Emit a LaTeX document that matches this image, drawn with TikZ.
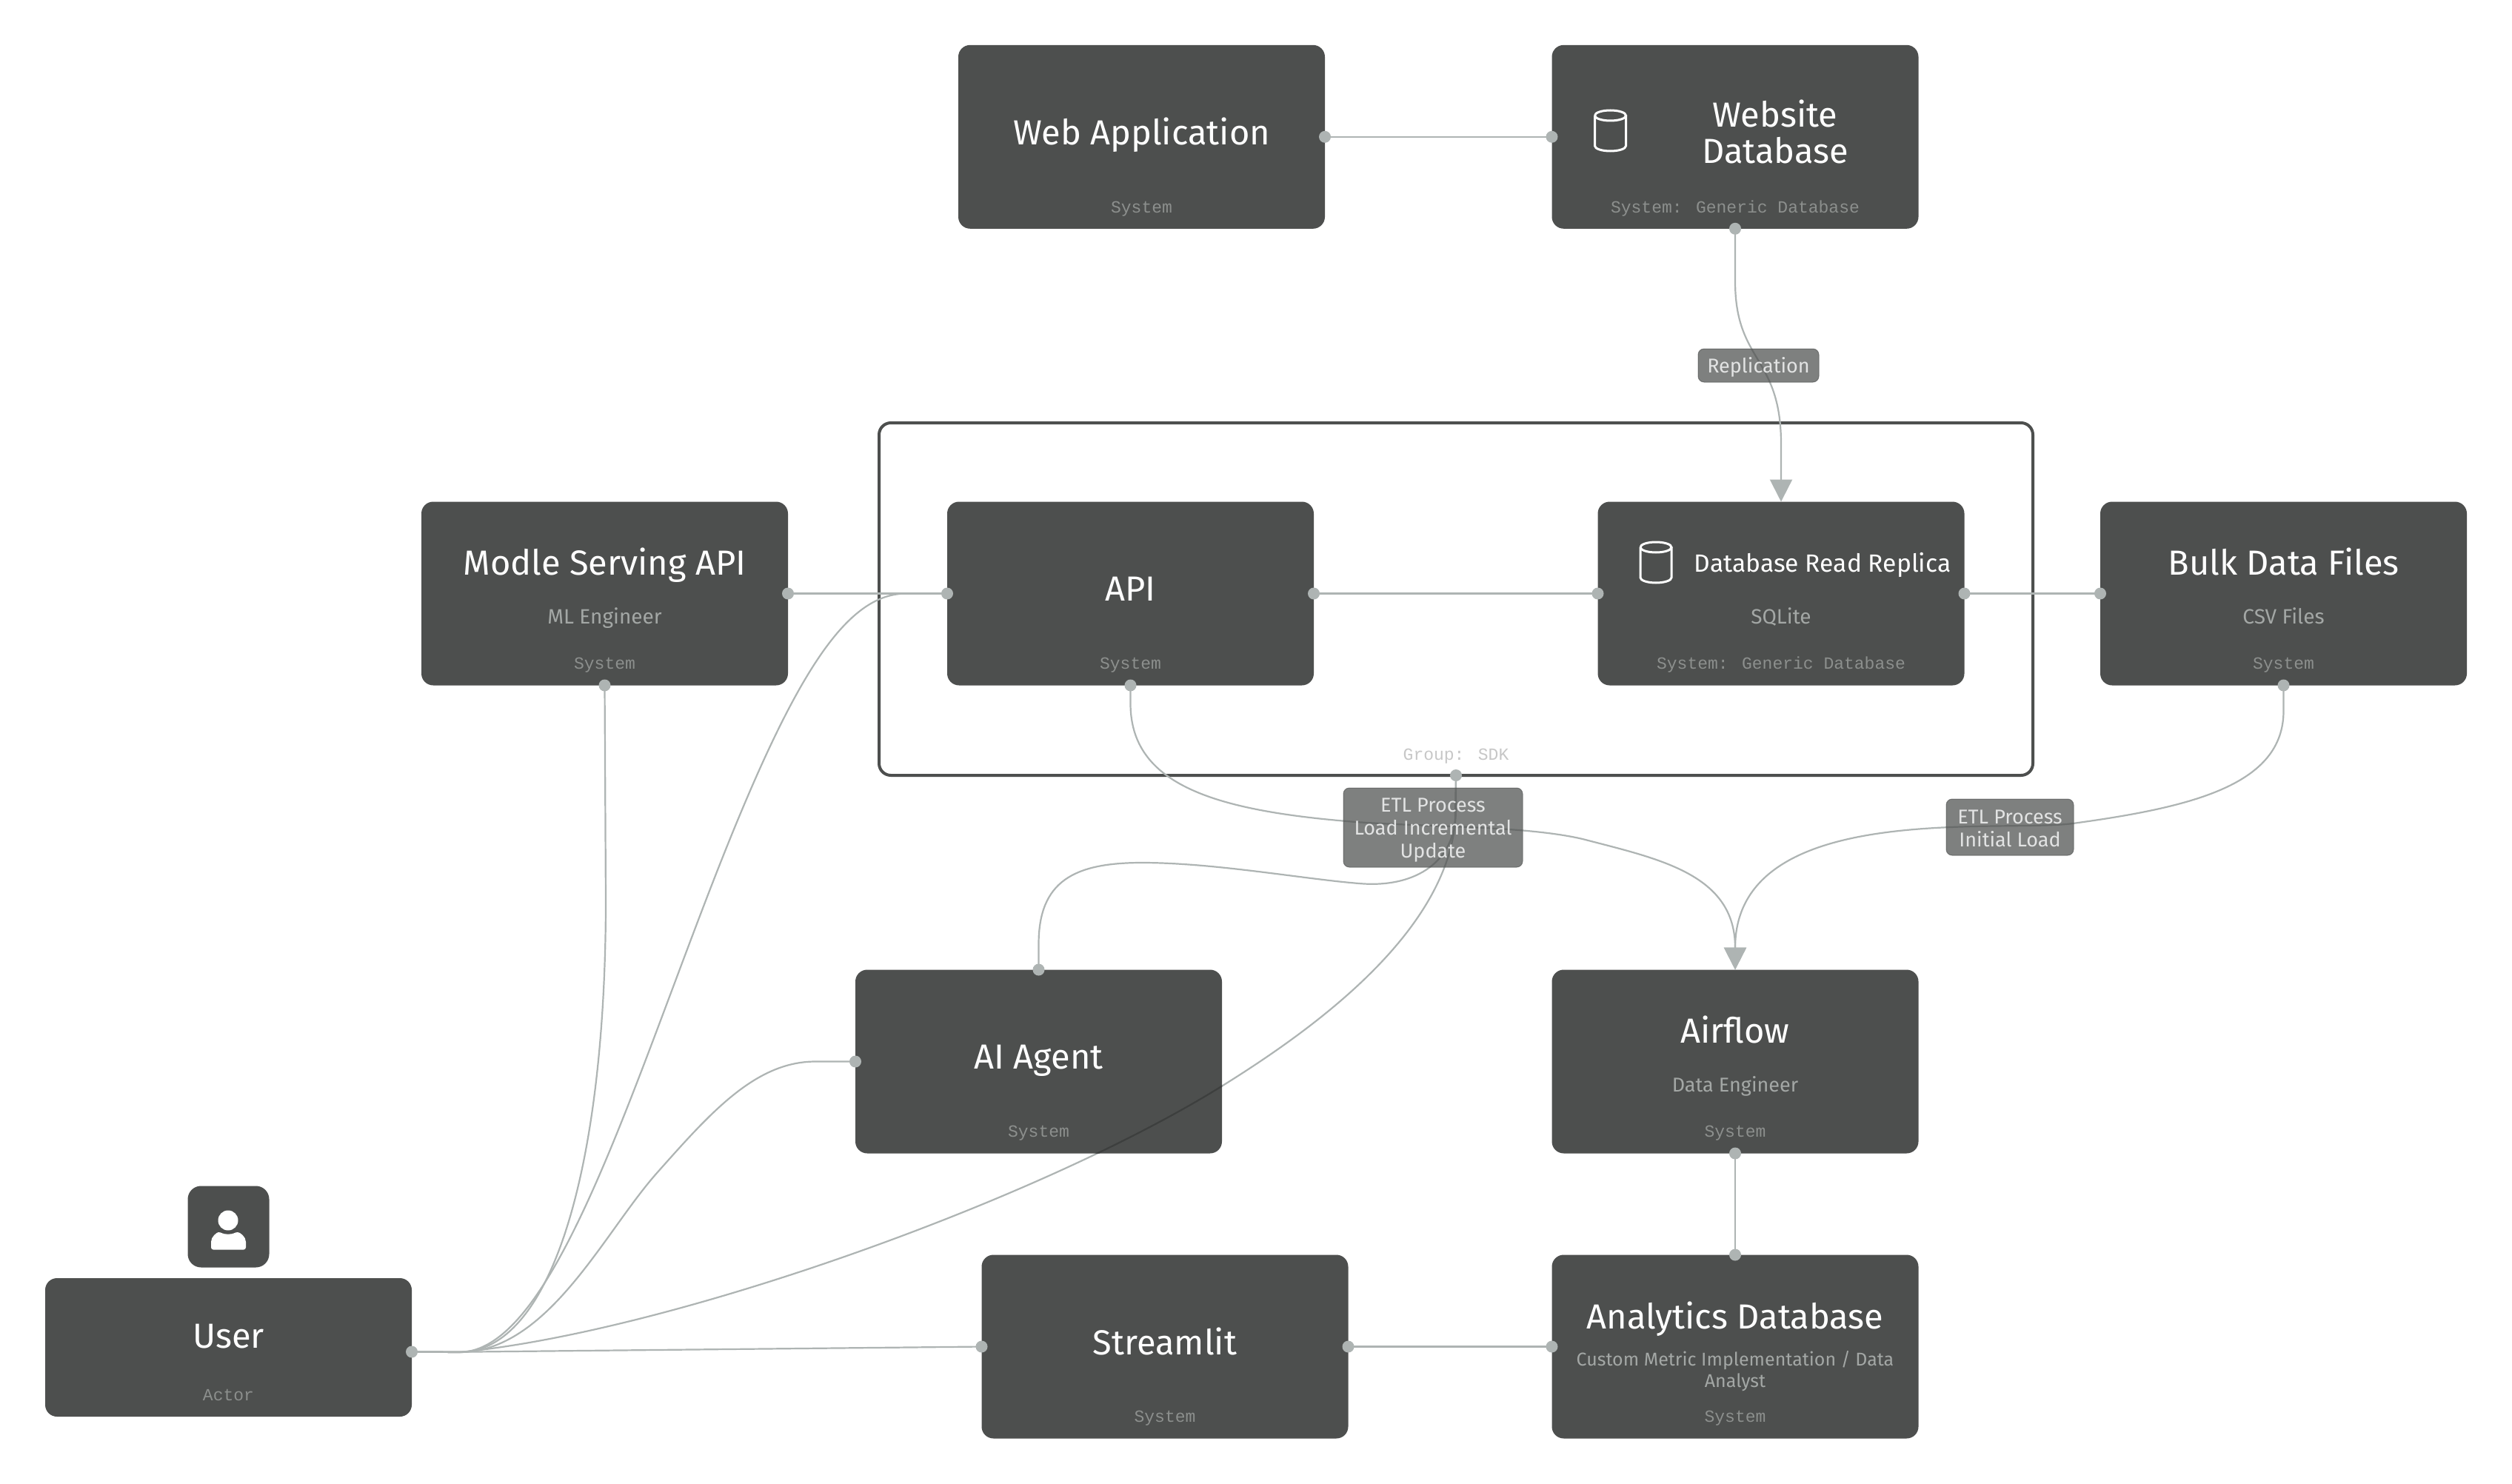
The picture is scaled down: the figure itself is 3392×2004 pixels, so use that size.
\documentclass[tikz,border=0pt]{standalone}
\usepackage{fontspec}
\setmainfont{Fira Sans}
\newfontfamily\monof{Liberation Mono}
\usetikzlibrary{arrows.meta}
\pgfdeclarelayer{bglayer}\pgfdeclarelayer{edgelayer}
\pgfsetlayers{bglayer,edgelayer,main}
\definecolor{boxc}{HTML}{4D4F4E}
\definecolor{linec}{HTML}{AEB4B3}
\definecolor{subc}{HTML}{A3A7A5}
\definecolor{monc}{HTML}{8C8F8D}
\definecolor{darkl}{HTML}{3D3F3E}
\tikzset{
 boxn/.style={rectangle,rounded corners=16pt,fill=boxc,inner sep=0pt,outer sep=0pt,minimum width=495pt,minimum height=248pt},
 ttl/.style={anchor=base,text=white,inner sep=0pt,font=\fontsize{47}{50}\selectfont},
 subt/.style={anchor=base,text=subc,inner sep=0pt,font=\fontsize{28}{30}\selectfont},
 mon/.style={anchor=base,text=monc,inner sep=0pt,font=\monof\fontsize{23}{25}\selectfont},
 lblbox/.style={rectangle,rounded corners=8pt,draw=boxc,draw opacity=.6,line width=1pt,fill=boxc,fill opacity=.72,inner sep=0pt,outer sep=0pt},
 lbltxt/.style={anchor=base,text=white!84!boxc,inner sep=0pt,font=\fontsize{27}{29}\selectfont},
 edgeln/.style={draw=linec,line width=2.2pt},
 arrowln/.style={edgeln,-{Triangle[length=30pt,width=30pt,fill=linec]}},
 dotc/.style={fill=linec},
 iconln/.style={draw=white,line width=3pt},
}
\def\pathGroupUser{(g.south) -- (1966,1090) .. controls (1966,1250) and (1781,1385) .. (1651,1466) .. controls (1401,1622) and (900,1800) .. (620,1826) -- (uport)}
\begin{document}
\begin{tikzpicture}[x=1pt,y=-1pt]
\useasboundingbox (0,0) rectangle (3392,2004);
% group frame
\begin{pgfonlayer}{bglayer}
\fill[white] (0,0) rectangle (3392,2004);
\node[rectangle,draw=boxc,line width=4pt,rounded corners=16pt,inner sep=0pt,outer sep=0pt,minimum width=1558pt,minimum height=476pt] (g) at (1966,809) {};
\end{pgfonlayer}
% boxes
\node[boxn] (web) at (1541.5,184.8) {};
\node[boxn] (wdb) at (2343,184.8) {};
\node[boxn] (modle) at (816.5,801.5) {};
\node[boxn] (api) at (1526.5,801.5) {};
\node[boxn] (rep) at (2405,801.5) {};
\node[boxn] (bulk) at (3083.5,801.5) {};
\node[boxn] (ai) at (1402.5,1433.5) {};
\node[boxn] (air) at (2343,1433.5) {};
\node[boxn] (stream) at (1573,1818.5) {};
\node[boxn] (ana) at (2343,1818.5) {};
\node[boxn,minimum height=187pt] (user) at (308.5,1819.5) {};
\node[rectangle,rounded corners=18pt,fill=boxc,inner sep=0pt,outer sep=0pt,minimum width=110pt,minimum height=110pt] (uicon) at (308.5,1656.5) {};
\coordinate (uport) at (556,1825.5);
% labels
\node[lblbox,minimum width=163pt,minimum height=45pt] (lrep) at (2374.5,493.5) {};
\node[lblbox,minimum width=242pt,minimum height=107pt] (letl) at (1935,1117.5) {};
\node[lblbox,minimum width=172pt,minimum height=76pt] (lini) at (2714,1117) {};
% edges
\begin{pgfonlayer}{edgelayer}
\draw[edgeln] (web.east) -- (wdb.west);
\draw[edgeln] (modle.east) -- (api.west);
\draw[edgeln] (api.east) -- (rep.west);
\draw[edgeln] (rep.east) -- (bulk.west);
\draw[edgeln] (stream.east) -- (ana.west);
\draw[edgeln] (air.south) -- (ana.north);
\draw[edgeln] (uport) -- (640,1825.5) -- (stream.west);
\draw[arrowln] (wdb.south) -- (2343,380) .. controls (2343,490) and (2405,480) .. (2405,600) -- (rep.north);
\draw[arrowln] (api.south) -- (1526.5,950) .. controls (1526.5,1060) and (1640,1095) .. (1831,1110) .. controls (1930,1117) and (2060,1115) .. (2137,1133) .. controls (2240,1160) and (2343,1180) .. (2343,1280) -- (air.north);
\draw[arrowln] (bulk.south) -- (3083.5,960) .. controls (3083.5,1060) and (2960,1090) .. (2799,1112) .. controls (2700,1125) and (2343,1080) .. (2343,1280) -- (air.north);
\draw[edgeln] (g.south) -- (1965,1100) .. controls (1965,1160) and (1915,1200) .. (1835,1193) .. controls (1760,1187) and (1640,1165) .. (1542,1165) .. controls (1450,1165) and (1402.5,1190) .. (1402.5,1275) -- (ai.north);
\draw[edgeln] \pathGroupUser;
\draw[edgeln] (uport) -- (620,1826) .. controls (750,1826) and (818,1560) .. (818,1216) -- (modle.south);
\draw[edgeln] (uport) -- (620,1826) .. controls (740,1826) and (838,1516) .. (953,1216) .. controls (1068,916) and (1140,801.5) .. (1224,801.5) -- (api.west);
\draw[edgeln] (uport) -- (620,1826) .. controls (740,1826) and (815,1665) .. (887,1584) .. controls (959,1503) and (1020,1433.5) .. (1101,1433.5) -- (ai.west);
\end{pgfonlayer}
% edge seen through the AI Agent box
\begin{scope}
\clip[rounded corners=16pt] (ai.north west) rectangle (ai.south east);
\draw[draw=darkl,line width=2.2pt] \pathGroupUser;
\end{scope}
% dots
\foreach \p in {web.east,wdb.west,wdb.south,modle.east,modle.south,api.west,api.east,api.south,rep.west,rep.east,bulk.west,bulk.south,g.south,ai.north,ai.west,air.south,ana.north,stream.west,stream.east,ana.west,uport}
 \fill[dotc] (\p) circle[radius=8pt];
% titles
\node[ttl] (t1) at (1541.5,196) {Web Application};
\node[ttl] (t2a) at (2397,172) {Website};
\node[ttl] (t2b) at (2397,221) {Database};
\node[ttl] (t3) at (816.5,776) {Modle Serving API};
\node[ttl] (t4) at (1526.5,811) {API};
\node[ttl,font=\fontsize{33.6}{36}\selectfont] (t5) at (2461,772) {Database Read Replica};
\node[ttl] (t6) at (3083.5,776) {Bulk Data Files};
\node[ttl] (t7) at (1402.5,1443) {AI Agent};
\node[ttl] (t8) at (2343,1408) {Airflow};
\node[ttl] (t9) at (1573,1829) {Streamlit};
\node[ttl] (t10) at (2343,1794) {Analytics Database};
\node[ttl] (t11) at (308.5,1820) {User};
% subtitles
\node[subt] (s1) at (816.5,842) {ML Engineer};
\node[subt] (s2) at (2405,842) {SQLite};
\node[subt] (s3) at (3083.5,842) {CSV Files};
\node[subt,font=\fontsize{27}{30}\selectfont] (s4) at (2343,1474) {Data Engineer};
\node[subt,font=\fontsize{25}{30}\selectfont] (s5) at (2343,1844) {Custom Metric Implementation / Data};
\node[subt,font=\fontsize{25}{30}\selectfont] (s6) at (2343,1873) {Analyst};
% mono tags
\node[mon] (m1) at (1541.5,287) {System};
\node[mon] (m2) at (2343,287) {System: Generic Database};
\node[mon] (m3) at (816.5,903) {System};
\node[mon] (m4) at (1526.5,903) {System};
\node[mon] (m5) at (2405,903) {System: Generic Database};
\node[mon] (m6) at (3083.5,903) {System};
\node[mon] (m7) at (1402.5,1535) {System};
\node[mon] (m8) at (2343,1535) {System};
\node[mon] (m9) at (1573,1920) {System};
\node[mon] (m10) at (2343,1920) {System};
\node[mon] (m11) at (308.5,1891) {Actor};
\node[mon,text=black!22] (m12) at (1966,1026) {Group: SDK};
% label text
\node[lbltxt] (x1) at (2374.5,503) {Replication};
\node[lbltxt] (x2) at (1935,1096) {ETL Process};
\node[lbltxt] (x3) at (1935,1127) {Load Incremental};
\node[lbltxt] (x4) at (1935,1158) {Update};
\node[lbltxt] (x5) at (2714,1112) {ETL Process};
\node[lbltxt] (x6) at (2714,1143) {Initial Load};
% database icons
\foreach \cx/\ty in {2174.5/156, 2236/739}{
 \draw[iconln] (\cx-21,\ty) arc[start angle=180,end angle=-180,x radius=21,y radius=7];
 \draw[iconln] (\cx-21,\ty) -- (\cx-21,\ty+41) arc[start angle=180,end angle=0,x radius=21,y radius=7] -- (\cx+21,\ty);
}
% person icon
\fill[white] (308,1648) ellipse[x radius=13.5,y radius=13.5];
\fill[white,rounded corners=3pt] (285,1687.5) -- (285,1680) .. controls (285,1670) and (293,1664) .. (298,1664) .. controls (303,1667) and (313,1667) .. (318,1664) .. controls (324,1664) and (332,1670) .. (332,1680) -- (332,1687.5) -- cycle;
\end{tikzpicture}
\end{document}
